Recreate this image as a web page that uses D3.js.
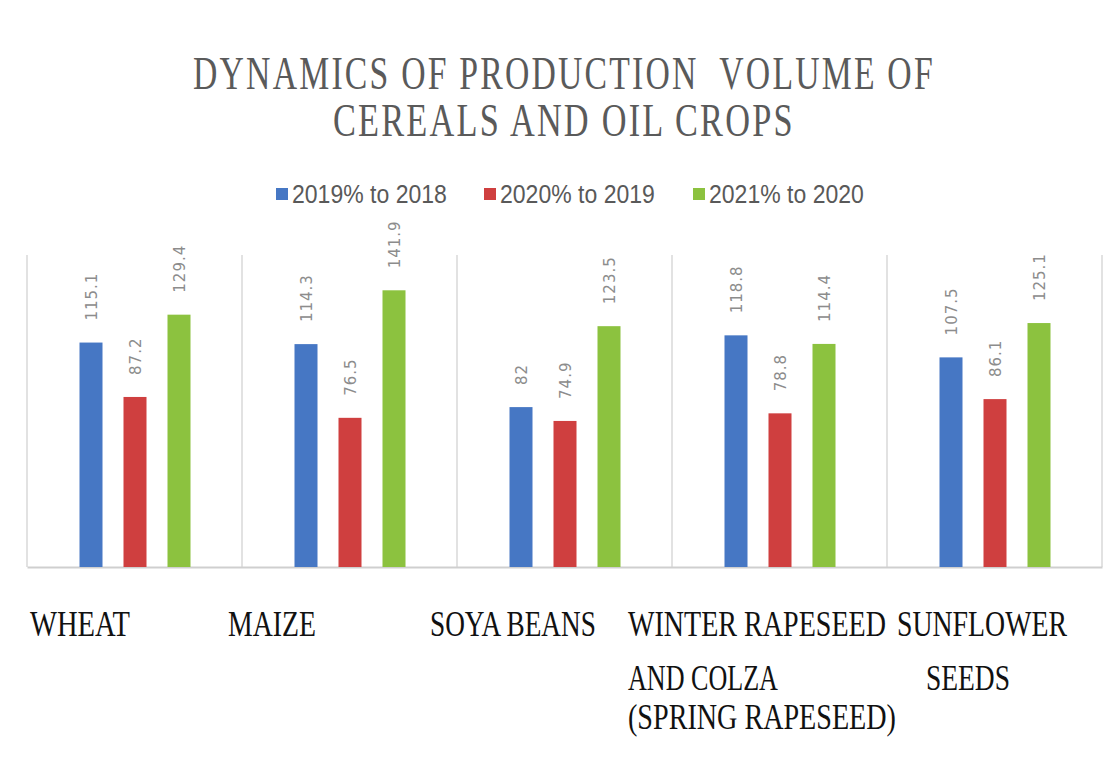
<!DOCTYPE html>
<html>
<head>
<meta charset="utf-8">
<script src="https://cdn.jsdelivr.net/npm/d3@7"></script>
<style>
  html, body { margin: 0; padding: 0; background: #fff; }
</style>
</head>
<body>
<div id="chart"></div>
<script>
// chart data
const categories = ["WHEAT", "MAIZE", "SOYA BEANS", "WINTER RAPESEED AND COLZA (SPRING RAPESEED)", "SUNFLOWER SEEDS"];
const categoryLines = [["WHEAT"], ["MAIZE"], ["SOYA BEANS"], ["WINTER RAPESEED", "AND COLZA", "(SPRING RAPESEED)"], ["SUNFLOWER", "SEEDS"]];
const seriesNames = ["2019% to 2018", "2020% to 2019", "2021% to 2020"];
const v2019 = [115.1, 114.3, 82, 118.8, 107.5];
const v2020 = [87.2, 76.5, 74.9, 78.8, 86.1];
const v2021 = [129.4, 141.9, 123.5, 114.4, 125.1];
const titleLines = ["DYNAMICS OF PRODUCTION  VOLUME OF", "CEREALS AND OIL CROPS"];

const colors = ["#4677c4", "#cf3f3f", "#8cc23f"];
const seriesValues = [v2019, v2020, v2021];

const width = 1115, height = 767;
const svg = d3.select("#chart").append("svg")
    .attr("width", width)
    .attr("height", height);

// squeeze a text horizontally to a target width (condensed look)
function squeeze(sel, target, anchor) {
  sel.each(function(d, i) {
    const t = d3.select(this);
    const w = this.getComputedTextLength();
    const tw = typeof target === "function" ? target(d, i) : target;
    const sx = tw / w;
    const tx = +t.attr("data-x"), ty = +t.attr("data-y");
    const shift = anchor === "middle" ? -tw / 2 : 0;
    t.attr("transform", `translate(${tx + shift},${ty}) scale(${sx},1)`);
  });
}

// scales
const x = d3.scaleBand().domain(categories).range([27, 1102]).padding(0);
const xs = d3.scalePoint().domain(seriesNames).range([64, 152]);
const y = d3.scaleLinear().domain([0, 160]).range([567, 255]);
const barW = 23;

// title
const titleW = [742, 462];
svg.append("g").selectAll("text")
    .data(titleLines)
    .enter().append("text")
    .attr("data-x", 564)
    .attr("data-y", (d, i) => 89 + i * 47)
    .style("font-family", "'Liberation Serif', serif")
    .style("font-size", "46px")
    .style("letter-spacing", "3px")
    .style("fill", "#5a5a5a")
    .style("white-space", "pre")
    .text(d => d)
    .call(squeeze, (d, i) => titleW[i], "middle");

// legend
const legendX = [276, 484, 693];
const legend = svg.append("g").selectAll("g")
    .data(seriesNames)
    .enter().append("g")
    .attr("transform", (d, i) => `translate(${legendX[i]},188)`);
legend.append("rect")
    .attr("width", 12).attr("height", 12)
    .attr("fill", (d, i) => colors[i]);
legend.append("text")
    .attr("data-x", 16)
    .attr("data-y", 15)
    .style("font-family", "'Liberation Sans Narrow', 'Liberation Sans', sans-serif")
    .style("font-size", "26px")
    .style("fill", "#595959")
    .text(d => d)
    .call(squeeze, 155);

// category separators
svg.append("g").selectAll("line")
    .data(categories.concat(["end"]))
    .enter().append("line")
    .attr("x1", (d, i) => i < categories.length ? x(d) : x.range()[1])
    .attr("x2", (d, i) => i < categories.length ? x(d) : x.range()[1])
    .attr("y1", y(160))
    .attr("y2", y(0))
    .attr("stroke", "#d9d9d9")
    .attr("stroke-width", 1.5);

// baseline axis
svg.append("g")
    .attr("transform", `translate(0,${y(0)})`)
    .call(d3.axisBottom(x).tickSize(0).tickFormat(""))
    .call(g => g.select(".domain").attr("stroke", "#cfcfcf").attr("stroke-width", 2));

// bars
const groups = svg.append("g").selectAll("g")
    .data(categories)
    .enter().append("g")
    .attr("transform", d => `translate(${x(d)},0)`);

seriesNames.forEach((s, si) => {
  groups.append("rect")
      .attr("x", xs(s) - barW / 2)
      .attr("width", barW)
      .attr("y", (d, ci) => y(seriesValues[si][ci]))
      .attr("height", (d, ci) => y(0) - y(seriesValues[si][ci]))
      .attr("fill", colors[si]);

  groups.append("text")
      .attr("transform", (d, ci) => `translate(${xs(s) + 1},${y(seriesValues[si][ci]) - 22}) rotate(-90)`)
      .attr("dominant-baseline", "middle")
      .style("font-family", "'DejaVu Sans', sans-serif")
      .style("font-size", "15px")
      .style("letter-spacing", "1px")
      .style("fill", "#8c8c8c")
      .text((d, ci) => seriesValues[si][ci]);
});

// category labels (drawn below chart, left aligned)
const labelShift = [3, -14, -27, -44, 10];
const labelLen = {
  "WHEAT": 100, "MAIZE": 88, "SOYA BEANS": 166, "WINTER RAPESEED": 258,
  "AND COLZA": 150, "(SPRING RAPESEED)": 268, "SUNFLOWER": 170, "SEEDS": 84
};
const labelIndent = { "SEEDS": 29 };
const lineY = [636, 690, 729];
const catLabels = svg.append("g").selectAll("g")
    .data(categories)
    .enter().append("g")
    .attr("transform", (d, i) => `translate(${x(d) + labelShift[i]},0)`);
catLabels.selectAll("text")
    .data((d, i) => categoryLines[i])
    .enter().append("text")
    .attr("data-x", d => labelIndent[d] || 0)
    .attr("data-y", (d, j) => lineY[j])
    .style("font-family", "'Liberation Serif', serif")
    .style("font-size", "36px")
    .style("fill", "#111")
    .text(d => d)
    .call(squeeze, d => labelLen[d]);
</script>
</body>
</html>
